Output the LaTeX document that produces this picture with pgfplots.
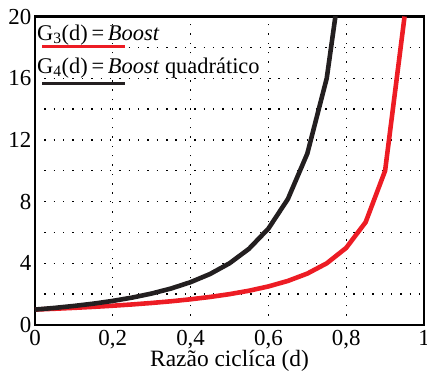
\documentclass[border=0pt]{standalone}
\usepackage{fontspec}
\setmainfont{Liberation Serif}
\usepackage{pgfplots}
\pgfplotsset{compat=1.18}
\definecolor{bred}{RGB}{237,28,36}
\definecolor{bblack}{RGB}{35,31,32}
\begin{document}
\begin{tikzpicture}
\begin{axis}[
  name=ax,
  scale only axis,
  width=389bp, height=308.5bp,
  xmin=0, xmax=1, ymin=0, ymax=20,
  xtick={0,0.2,0.4,0.6,0.8,1},
  xticklabels={0,{0,2},{0,4},{0,6},{0,8},1},
  ytick={0,4,8,12,16,20},
  minor ytick={2,6,10,14,18},
  /pgf/number format/assume math mode=true,
  tick label style={font=\fontsize{23}{23}\selectfont, inner sep=0pt},
  yticklabel style={anchor=east, xshift=-3.5bp},
  xticklabel style={anchor=north, yshift=-5bp},
  xlabel={Razão ciclíca (d)},
  xlabel style={font=\fontsize{23.5}{23.5}\selectfont, inner sep=0pt, at={(axis description cs:0.5,0)}, anchor=base, yshift=-41bp},
  major tick length=0pt, minor tick length=0pt,
  axis line style={line width=2.2pt},
  grid=both,
  major grid style={black, line width=1.4pt, dash pattern=on 1.4pt off 8pt},
  minor grid style={black, line width=1.4pt, dash pattern=on 1.4pt off 8pt},
  clip=true,
]
\addplot[bred, line width=4.6pt] coordinates {
(0,1) (0.05,1.053) (0.1,1.111) (0.15,1.176) (0.2,1.25) (0.25,1.333) (0.3,1.429) (0.35,1.538) (0.4,1.667) (0.45,1.818) (0.5,2) (0.55,2.222) (0.6,2.5) (0.65,2.857) (0.7,3.333) (0.75,4) (0.8,5) (0.85,6.667) (0.9,10) (0.95,20)
};
\addplot[bblack, line width=4.6pt] coordinates {
(0,1) (0.05,1.108) (0.1,1.235) (0.15,1.384) (0.2,1.5625) (0.25,1.778) (0.3,2.041) (0.35,2.367) (0.4,2.778) (0.45,3.306) (0.5,4) (0.55,4.938) (0.6,6.25) (0.65,8.163) (0.7,11.11) (0.75,16) (0.8,25)
};
\node[anchor=base west, inner sep=0pt, font=\fontsize{22.5}{22.5}\selectfont] at (axis cs:0.005,18.44) {G\textsubscript{3}(d)\,=\,\textit{Boost}};
\draw[bred, line width=2.8pt] (axis cs:0.018,18.07) -- (axis cs:0.231,18.07);
\node[anchor=base west, inner sep=0pt, font=\fontsize{22.5}{22.5}\selectfont] at (axis cs:0.005,16.29) {G\textsubscript{4}(d)\,=\,\textit{Boost} quadrático};
\draw[bblack, line width=2.8pt] (axis cs:0.018,15.64) -- (axis cs:0.231,15.64);
\end{axis}
\pgfresetboundingbox
\path (ax.south west) ++(-35bp,-46bp) coordinate (bl);
\path (ax.north east) ++(3bp,16.5bp) coordinate (tr);
\useasboundingbox (bl) rectangle (tr);
\end{tikzpicture}
\end{document}
